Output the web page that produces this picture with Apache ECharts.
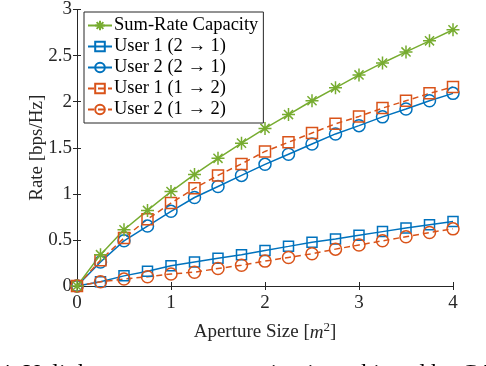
<!DOCTYPE html>
<html>
<head>
<meta charset="utf-8">
<script src="https://cdn.jsdelivr.net/npm/echarts@6/dist/echarts.min.js"></script>
<style>
  html, body { margin: 0; padding: 0; background: #fff; }
  #chart { width: 486px; height: 366px; }
</style>
</head>
<body>
<div id="chart"></div>
<script>
// aperture sizes [m^2]
const apertures = [0, 0.25, 0.5, 0.75, 1, 1.25, 1.5, 1.75, 2, 2.25, 2.5, 2.75, 3, 3.25, 3.5, 3.75, 4];
const sumRate   = [0, 0.34, 0.61, 0.82, 1.025, 1.21, 1.385, 1.55, 1.71, 1.86, 2.01, 2.15, 2.29, 2.42, 2.54, 2.66, 2.78];
const u1_21     = [0, 0.046, 0.11, 0.16, 0.22, 0.26, 0.30, 0.34, 0.386, 0.43, 0.475, 0.51, 0.55, 0.59, 0.63, 0.665, 0.70];
const u2_21     = [0, 0.26, 0.49, 0.65, 0.81, 0.96, 1.08, 1.20, 1.32, 1.43, 1.54, 1.65, 1.74, 1.835, 1.92, 2.01, 2.09];
const u1_12     = [0, 0.28, 0.52, 0.725, 0.90, 1.06, 1.20, 1.325, 1.46, 1.56, 1.66, 1.76, 1.84, 1.93, 2.01, 2.09, 2.16];
const u2_12     = [0, 0.046, 0.075, 0.10, 0.13, 0.15, 0.19, 0.225, 0.27, 0.31, 0.35, 0.40, 0.445, 0.49, 0.535, 0.58, 0.62];

const FONT = "'Liberation Serif', 'Times New Roman', serif";
const AX = '#262626';
const BLUE = '#0072BD', ORANGE = '#D95319', GREEN = '#77AC30';
const STAR = 'path://M0,-10L0,10M-10,0L10,0M-7,-7L7,7M-7,7L7,-7';

function pairs(ys) { return apertures.map((x, i) => [x, ys[i]]); }

function mk(name, ys, color, symbol, size, dashed) {
  return {
    name: name,
    type: 'line',
    data: pairs(ys),
    symbol: symbol,
    symbolSize: size,
    showAllSymbol: true,
    lineStyle: { color: color, width: 1.5, type: dashed ? [6, 4] : 'solid' },
    itemStyle: { color: 'rgba(0,0,0,0)', borderColor: color, borderWidth: 1.5 }
  };
}

function caption(x, txt) {
  return { type: 'text', x: x, y: 362, style: { text: txt, font: "24px 'Liberation Serif'", fill: '#000', verticalAlign: 'top' } };
}

const chart = echarts.init(document.getElementById('chart'));

const axisBase = {
  axisLine: { show: true, lineStyle: { color: AX, width: 1 } },
  axisTick: { show: true, inside: true, length: 4, lineStyle: { color: AX } },
  splitLine: { show: false }
};

chart.setOption({
  animation: false,
  backgroundColor: '#fff',
  grid: { left: 77, right: 33, top: 6, bottom: 80 },
  xAxis: [
    Object.assign({
      type: 'value', min: 0, max: 4, interval: 1, position: 'bottom',
      name: 'Aperture Size [{i|m}{sup|2}]',
      nameLocation: 'middle', nameGap: 35, nameMoveOverlap: false,
      nameTextStyle: {
        fontFamily: FONT, fontSize: 19, color: AX,
        rich: {
          i: { fontFamily: FONT, fontSize: 19, fontStyle: 'italic', color: AX },
          sup: { fontFamily: FONT, fontSize: 13, color: AX, padding: [0, 0, 10, 0] }
        }
      },
      axisLabel: { fontFamily: FONT, fontSize: 19, color: AX, margin: 8 }
    }, axisBase),
    Object.assign({
      type: 'value', min: 0, max: 4, interval: 1, position: 'top',
      axisLabel: { show: false }
    }, axisBase)
  ],
  yAxis: [
    Object.assign({
      type: 'value', min: 0, max: 3, interval: 0.5, position: 'left',
      name: 'Rate [bps/Hz]', nameLocation: 'middle', nameGap: 30, nameMoveOverlap: false,
      nameTextStyle: { fontFamily: FONT, fontSize: 19, color: AX },
      axisLabel: { fontFamily: FONT, fontSize: 19, color: AX, margin: 5 }
    }, axisBase),
    Object.assign({
      type: 'value', min: 0, max: 3, interval: 0.5, position: 'right',
      axisLabel: { show: false }
    }, axisBase)
  ],
  legend: {
    orient: 'vertical',
    left: 84, top: 12,
    padding: [4, 5, 4, 3],
    itemWidth: 24, itemHeight: 12, itemGap: 2,
    backgroundColor: '#fff',
    borderColor: AX, borderWidth: 1,
    textStyle: { fontFamily: FONT, fontSize: 18.5, lineHeight: 19, color: '#000', padding: [0, 0, 0, -3] },
    data: ['Sum-Rate Capacity', 'User 1 (2 \u2192 1)', 'User 2 (2 \u2192 1)', 'User 1 (1 \u2192 2)', 'User 2 (1 \u2192 2)']
  },
  series: [
    mk('User 1 (2 \u2192 1)', u1_21, BLUE, 'rect', 10, false),
    mk('User 2 (2 \u2192 1)', u2_21, BLUE, 'circle', 12, false),
    mk('User 2 (1 \u2192 2)', u2_12, ORANGE, 'circle', 12, true),
    mk('User 1 (1 \u2192 2)', u1_12, ORANGE, 'rect', 11, true),
    mk('Sum-Rate Capacity', sumRate, GREEN, STAR, 13, false)
  ],
  graphic: [
    caption(-1, '4. Uplink'),
    caption(150, 'sum-rate region is'),
    caption(340, 'achieved by CAPA')
  ]
});
</script>
</body>
</html>
